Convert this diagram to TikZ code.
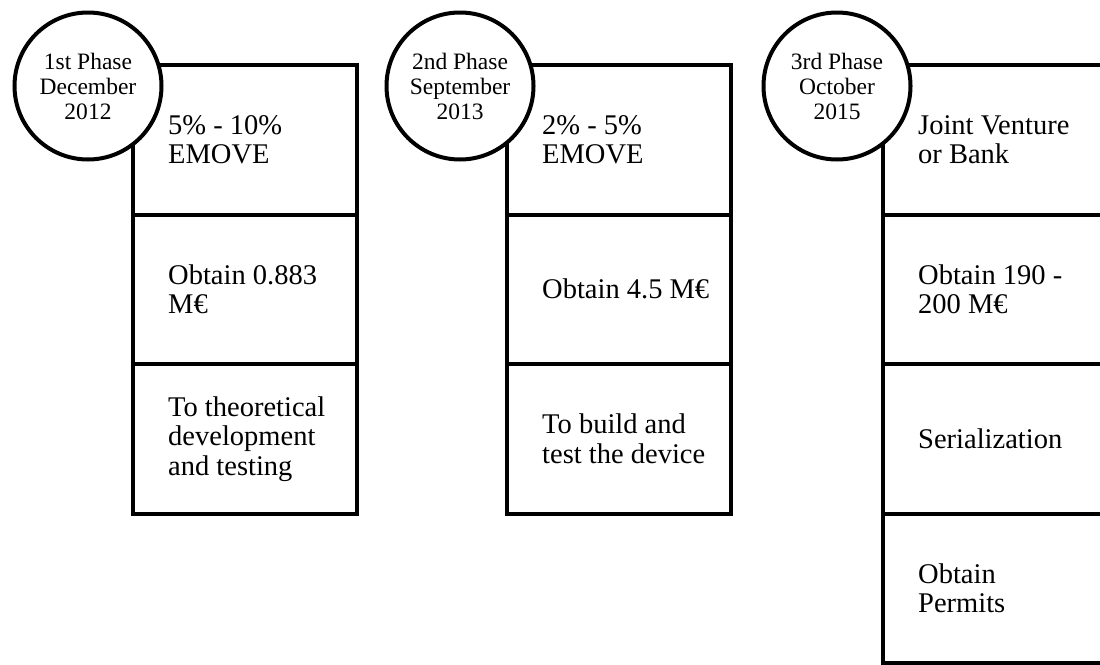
\documentclass[tikz,border=0pt]{standalone}
\usepackage{fontspec}
\setmainfont{Liberation Serif}
\begin{document}
\begin{tikzpicture}[x=1pt,y=-1pt,
  cell/.style={draw=black, line width=4pt, rectangle, minimum width=224pt, minimum height=149.5pt, inner sep=0pt, outer sep=0pt, anchor=north west},
  txt/.style={inner sep=0pt, align=left, anchor=west, font=\fontsize{28.5}{29.5}\selectfont},
  phase/.style={draw=black, fill=white, line width=4pt, circle, minimum size=147pt, inner sep=0pt, outer sep=0pt, align=center, font=\fontsize{23.5}{25}\selectfont}]
\useasboundingbox (0,0) rectangle (1100,664);
\begin{scope}
\clip (0,0) rectangle (1100,664);
% column 1
\node[cell] (a1) at (133,65) {};
\node[cell] (a2) at (a1.south west) {};
\node[cell] (a3) at (a2.south west) {};
% column 2
\node[cell] (b1) at (507,65) {};
\node[cell] (b2) at (b1.south west) {};
\node[cell] (b3) at (b2.south west) {};
% column 3
\node[cell] (c1) at (883,65) {};
\node[cell] (c2) at (c1.south west) {};
\node[cell] (c3) at (c2.south west) {};
\node[cell] (c4) at (c3.south west) {};
% texts
\node[txt] (ta1) at ([xshift=35pt]a1.west) {5\% - 10\%\\EMOVE};
\node[txt] (ta2) at ([xshift=35pt]a2.west) {Obtain 0.883\\M€};
\node[txt] (ta3) at ([xshift=35pt]a3.west) {To theoretical\\development\\and testing};
\node[txt] (tb1) at ([xshift=35pt]b1.west) {2\% - 5\%\\EMOVE};
\node[txt] (tb2) at ([xshift=35pt]b2.west) {Obtain 4.5 M€};
\node[txt] (tb3) at ([xshift=35pt]b3.west) {To build and\\test the device};
\node[txt] (tc1) at ([xshift=35pt]c1.west) {Joint Venture\\or Bank};
\node[txt] (tc2) at ([xshift=35pt]c2.west) {Obtain 190 -\\200 M€};
\node[txt] (tc3) at ([xshift=35pt]c3.west) {Serialization};
\node[txt] (tc4) at ([xshift=35pt]c4.west) {Obtain\\Permits};
% phase circles
\node[phase] (p1) at (88,86) {1st Phase\\December\\2012};
\node[phase] (p2) at (460,86) {2nd Phase\\September\\2013};
\node[phase] (p3) at (837,86) {3rd Phase\\October\\2015};
\end{scope}
\end{tikzpicture}
\end{document}
